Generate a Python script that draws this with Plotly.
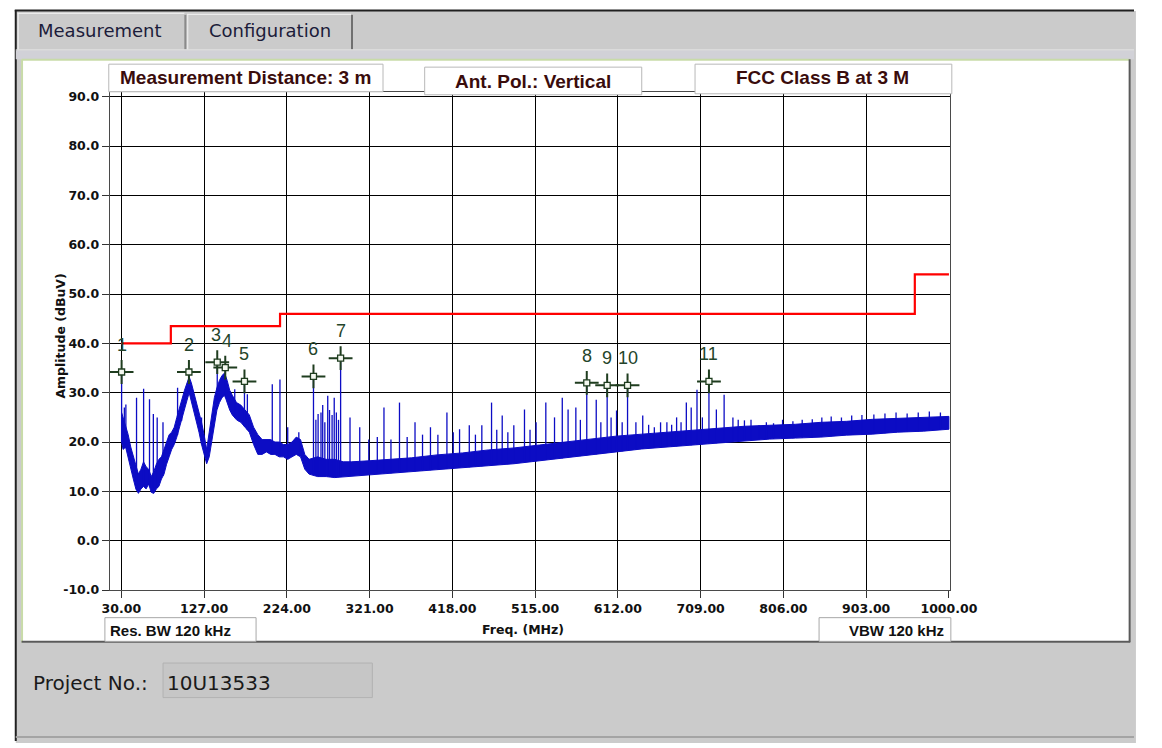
import numpy as np
import plotly.graph_objects as go

W, H = 1162, 748

# ---- data -------------------------------------------------------------
x_ticks = [30, 127, 224, 321, 418, 515, 612, 709, 806, 903, 1000]
x_tick_labels = ["30.00", "127.00", "224.00", "321.00", "418.00", "515.00",
                 "612.00", "709.00", "806.00", "903.00", "1000.00"]
y_ticks = [-10, 0, 10, 20, 30, 40, 50, 60, 70, 80, 90]
y_tick_labels = ["-10.0", "0.0", "10.0", "20.0", "30.0", "40.0", "50.0",
                 "60.0", "70.0", "80.0", "90.0"]

# FCC Class B limit at 3 m
limit_freq = [30, 88, 88, 216, 216, 960, 960, 1000]
limit_level = [40, 40, 43.5, 43.5, 46, 46, 54, 54]

# measured noise band (lower / upper edge of the sweep trace)
band_freq = [30.3, 32, 35, 38, 41, 44, 47, 50, 53, 56, 59, 62, 65, 68, 71,
             74, 77, 80, 83, 86, 89, 92, 95, 98, 101, 104, 107, 109.5, 112,
             115, 118, 121, 124, 127, 130, 133, 136, 139, 142, 145, 148, 151,
             154, 157, 160, 165, 170, 175, 180, 185, 190, 195, 200, 205, 210,
             215, 220, 225, 230, 235, 240, 245, 250, 260, 270, 280, 290, 300,
             320, 340, 370, 400, 430, 460, 490, 520, 550, 580, 610, 640, 670,
             700, 730, 760, 790, 820, 850, 880, 910, 940, 970, 1000]
band_low = [20.0, 18.5, 19.0, 16.5, 14.5, 12.5, 10.5, 9.6, 10.5, 11.0, 10.5,
            11.5, 9.8, 9.6, 10.5, 11.0, 12.5, 13.5, 15.5, 17.0, 18.5, 19.5,
            21.0, 22.5, 24.5, 26.5, 28.5, 30.0, 28.5, 26.0, 24.0, 22.0, 19.5,
            17.5, 15.6, 17.0, 20.0, 23.5, 26.5, 28.0, 29.0, 29.5, 28.0, 26.5,
            25.5, 24.5, 24.0, 23.0, 22.0, 19.5, 17.5, 17.5, 18.0, 17.5, 17.5,
            17.0, 17.0, 16.5, 17.0, 17.5, 17.0, 14.5, 13.5, 13.0, 13.0, 12.8,
            13.0, 13.2, 13.4, 13.6, 14.0, 14.4, 14.8, 15.2, 15.6, 16.2, 16.8,
            17.4, 18.0, 18.6, 19.0, 19.4, 19.8, 20.2, 20.6, 20.8, 21.0, 21.4,
            21.6, 22.0, 22.2, 22.6]
band_high = [26.0, 25.0, 23.0, 21.5, 19.0, 17.0, 15.0, 13.5, 14.5, 16.0, 15.0,
             14.5, 13.0, 14.0, 15.5, 16.5, 17.0, 18.5, 20.0, 21.5, 22.0, 23.0,
             25.0, 27.0, 29.0, 30.5, 32.0, 33.2, 32.0, 30.0, 28.5, 26.5, 24.0,
             21.5, 18.5, 22.0, 26.0, 29.0, 31.0, 32.5, 33.5, 34.0, 32.5, 30.5,
             29.5, 28.0, 27.5, 26.5, 25.5, 23.0, 21.5, 20.5, 20.5, 20.5, 20.0,
             20.0, 19.5, 19.5, 20.0, 21.0, 20.5, 17.5, 16.5, 17.0, 16.5, 16.5,
             16.0, 16.0, 16.2, 16.4, 16.8, 17.4, 17.8, 18.4, 18.8, 19.4, 20.0,
             20.6, 21.2, 21.6, 22.0, 22.4, 22.8, 23.2, 23.4, 23.6, 24.0, 24.2,
             24.6, 24.8, 25.0, 25.2]

# narrowband emissions standing above the noise band
spike_freq = [33.5, 35.3, 47.8, 56.1, 63.0, 67.5, 72.0, 78.8, 95.9, 100.7,
              124.0, 162.9, 168.2, 177.7, 206.9, 215.9, 225.0, 238.0, 258.0,
              260.6, 264.0, 266.0, 268.5, 271.9, 274.0, 277.0, 279.5, 282.0,
              284.5, 298.0, 309.4, 320.0, 330.0, 337.8, 346.0, 356.0, 365.0,
              374.2, 383.0, 392.3, 401.0, 411.6, 419.0, 426.4, 437.8, 445.0,
              452.5, 463.9, 470.0, 476.4, 483.0, 490.0, 502.5, 509.0, 516.1,
              527.5, 537.7, 546.8, 553.6, 562.7, 568.0, 586.6, 592.0, 604.0,
              610.4, 617.0, 633.1, 641.1, 648.0, 654.7, 662.0, 669.4, 675.0,
              680.8, 686.0, 692.2, 697.9, 704.7, 711.0, 727.4, 736.5, 746.8,
              753.0, 760.3, 768.0, 777.4, 786.0, 794.4, 805.0, 817.1, 828.0,
              839.8, 851.0, 862.0, 874.0, 886.0, 898.0, 912.0, 925.0, 938.0,
              951.0, 964.0, 977.0, 990.0]
spike_top = [27.0, 27.6, 29.0, 30.8, 28.7, 25.7, 25.0, 24.0, 31.0, 27.0,
             25.0, 30.7, 27.4, 29.7, 31.7, 32.7, 23.0, 22.0, 24.5, 25.7,
             26.0, 27.5, 24.0, 29.4, 26.5, 25.5, 29.0, 26.0, 24.5, 25.0,
             23.0, 20.5, 21.0, 27.0, 20.5, 28.0, 21.0, 24.0, 21.5, 23.0,
             21.5, 26.0, 22.0, 22.6, 23.4, 21.5, 23.4, 28.0, 22.5, 25.4,
             22.0, 23.4, 26.6, 22.5, 24.0, 28.0, 25.0, 29.0, 26.6, 27.0,
             24.5, 28.6, 24.0, 25.0, 26.4, 24.0, 24.0, 25.4, 23.5, 23.0,
             24.0, 24.0, 23.5, 25.0, 24.0, 28.0, 27.0, 30.6, 25.0, 26.6,
             29.6, 25.0, 24.5, 24.4, 24.5, 23.4, 24.0, 23.8, 24.5, 24.2,
             24.5, 24.6, 25.0, 25.2, 25.0, 25.4, 25.5, 25.6, 25.8, 26.0,
             25.8, 26.0, 26.2, 26.0]

# peak markers
marker_no = ["1", "2", "3", "4", "5", "6", "7", "8", "9", "10", "11"]
marker_freq = [30.3, 109.2, 142.4, 151.8, 174.3, 255.2, 287.0, 575.5, 599.4,
               623.3, 718.7]
marker_level = [34.2, 34.2, 36.2, 35.1, 32.3, 33.3, 37.0, 32.0, 31.5, 31.5,
                32.3]

# ---- helpers ----------------------------------------------------------
def px(x):
    return x / W


def py(y):
    return 1 - y / H


def rect(x0, y0, x1, y1, fill, line=None, lw=1, layer="below"):
    return dict(type="rect", xref="paper", yref="paper",
                x0=px(x0), y0=py(y1), x1=px(x1), y1=py(y0),
                fillcolor=fill, layer=layer,
                line=dict(color=line or fill, width=lw if line else 0))


def hline(x0, x1, y, color, lw=1, layer="below"):
    return dict(type="line", xref="paper", yref="paper",
                x0=px(x0), x1=px(x1), y0=py(y), y1=py(y), layer=layer,
                line=dict(color=color, width=lw))


def vline(x, y0, y1, color, lw=1, layer="below"):
    return dict(type="line", xref="paper", yref="paper",
                x0=px(x), x1=px(x), y0=py(y0), y1=py(y1), layer=layer,
                line=dict(color=color, width=lw))


BLUE = "#0c0cc4"
GREEN = "#1f3d1f"

fig = go.Figure()

# noise band as filled region between the two edges
fig.add_trace(go.Scatter(
    x=band_freq + band_freq[::-1], y=band_high + band_low[::-1],
    fill="toself", fillcolor=BLUE, mode="lines",
    line=dict(color=BLUE, width=1), hoverinfo="skip", showlegend=False))

# spikes (emissions and marked peaks) from band floor up to their tops
all_f = spike_freq + marker_freq
all_top = spike_top + marker_level
base = np.interp(all_f, band_freq, band_low)
sx, sy = [], []
for f, b, t in zip(all_f, base, all_top):
    sx += [f, f, None]
    sy += [b, t, None]
fig.add_trace(go.Scatter(x=sx, y=sy, mode="lines",
                         line=dict(color=BLUE, width=1.3),
                         hoverinfo="skip", showlegend=False))

# limit line
fig.add_trace(go.Scatter(x=limit_freq, y=limit_level, mode="lines",
                         line=dict(color="#ff0000", width=2.2),
                         showlegend=False))

# marker crosshairs
fig.add_trace(go.Scatter(
    x=marker_freq, y=marker_level, mode="markers",
    marker=dict(symbol="cross-thin-open", size=17, color=GREEN,
                line=dict(color=GREEN, width=2)),
    showlegend=False))
fig.add_trace(go.Scatter(
    x=marker_freq, y=marker_level, mode="markers",
    marker=dict(symbol="square", size=6, color="#f4f8f0",
                line=dict(color=GREEN, width=1.3)),
    showlegend=False))

label_nudge = {"3": -1.5, "4": 1.5}
annotations = []
for n, f, v in zip(marker_no, marker_freq, marker_level):
    annotations.append(dict(x=f, y=v, xref="x", yref="y", text=n,
                            showarrow=False, yshift=27,
                            xshift=label_nudge.get(n, 0),
                            font=dict(family="Liberation Sans", size=18,
                                      color="#24442a")))

# ---- window chrome -----------------------------------------------------
shapes = [
    rect(8, 8, W + 2, H + 2, "#cbcbcb"),
    hline(7, W, 7.5, "#202020", 2),
    vline(8, 7, H, "#202020", 2),
    # tabs
    hline(10, 182, 10.5, "#f2f2f2", 1),
    vline(10.5, 10, 47, "#f2f2f2", 1),
    vline(183, 12, 47, "#8a8a8a", 2),
    hline(185, 354, 11.5, "#f2f2f2", 1),
    vline(185.5, 11, 47, "#f2f2f2", 1),
    vline(355, 12, 47, "#707070", 2),
    # strip under the tabs
    rect(8, 48, W, 57, "#d1d1d7"),
    hline(8, W, 47.5, "#e4e4e4", 1),
    # content panel
    rect(14, 57, 1158, 648, "#ffffff"),
    hline(14, 1158, 57.5, "#c8dba8", 2),
    vline(14.5, 57, 648, "#c8dba8", 2),
    vline(1157.5, 57, 648, "#5a5a5a", 2),
    hline(14, 1158, 647.5, "#5a5a5a", 2),
    # bottom edge of window
    hline(8, W, 744, "#a4a4a4", 2),
    # project number box
    rect(160, 669, 376, 704, "#c6c6c6", "#b2b2b2", 1),
    # boxes under the axis
    rect(100, 623, 256, 647, "#ffffff", "#a8a8a8", 1),
    rect(837, 623, 973, 647, "#ffffff", "#a8a8a8", 1),
    # header boxes over the plot
    rect(104, 62, 387, 90, "#ffffff", "#b8b8b8", 1, "above"),
    rect(430, 65, 654, 93, "#ffffff", "#b8b8b8", 1, "above"),
    rect(709, 62, 974, 92, "#ffffff", "#b8b8b8", 1, "above"),
]


def ptext(x, y, text, size, color, family="DejaVu Sans", weight="normal",
          xanchor="center"):
    return dict(x=px(x), y=py(y), xref="paper", yref="paper", text=text,
                showarrow=False, xanchor=xanchor, yanchor="middle",
                font=dict(family=family, size=size, color=color,
                          weight=weight))


annotations += [
    ptext(95, 28, "Measurement", 18, "#1c1c3a"),
    ptext(270, 28, "Configuration", 18, "#1c1c3a"),
    ptext(245.5, 76, "Measurement Distance: 3 m", 19, "#3a0c0c",
          "Liberation Sans", "bold"),
    ptext(542, 80, "Ant. Pol.: Vertical", 19, "#3a0c0c",
          "Liberation Sans", "bold"),
    ptext(841, 76, "FCC Class B at 3 M", 19, "#3a0c0c",
          "Liberation Sans", "bold"),
    ptext(103, 636, "Res. BW 120 kHz", 15, "#111111", "Liberation Sans",
          "bold", "left"),
    ptext(968, 636, "VBW 120 kHz", 15, "#111111", "Liberation Sans",
          "bold", "right"),
    ptext(531, 635, "Freq. (MHz)", 12.5, "#111111", "DejaVu Sans", "bold"),
    ptext(24, 689, "Project No.:", 20, "#1a1a1a", xanchor="left"),
    ptext(162, 689, "10U13533", 20, "#1a1a1a", xanchor="left"),
    dict(x=px(44), y=py(338), xref="paper", yref="paper",
         text="Amplitude (dBuV)", showarrow=False, textangle=-90,
         font=dict(family="DejaVu Sans", size=12.5, color="#111111",
                   weight="bold")),
]

tickfont = dict(family="DejaVu Sans", size=12.5, color="#111111",
                weight="bold")

fig.update_layout(
    width=W, height=H, autosize=False, margin=dict(l=0, r=0, t=0, b=0),
    paper_bgcolor="#ffffff", plot_bgcolor="#ffffff",
    shapes=shapes, annotations=annotations, showlegend=False,
    xaxis=dict(domain=[px(105), px(972)], range=[16.4, 1001.1],
               tickmode="array", tickvals=x_ticks, ticktext=x_tick_labels,
               showgrid=True, gridcolor="#000000", gridwidth=1,
               zeroline=False, showline=True, linecolor="#4a4a4a",
               linewidth=1, mirror=True, ticks="outside", ticklen=7,
               tickcolor="#333333", tickfont=tickfont, fixedrange=True),
    yaxis=dict(domain=[py(595), py(90)], range=[-10, 91],
               tickmode="array", tickvals=y_ticks, ticktext=y_tick_labels,
               showgrid=True, gridcolor="#000000", gridwidth=1,
               zeroline=False, showline=True, linecolor="#4a4a4a",
               linewidth=1, mirror=True, ticks="outside", ticklen=7,
               tickcolor="#333333", tickfont=tickfont, fixedrange=True),
)

fig.write_html("out.html", config={"displayModeBar": False})
